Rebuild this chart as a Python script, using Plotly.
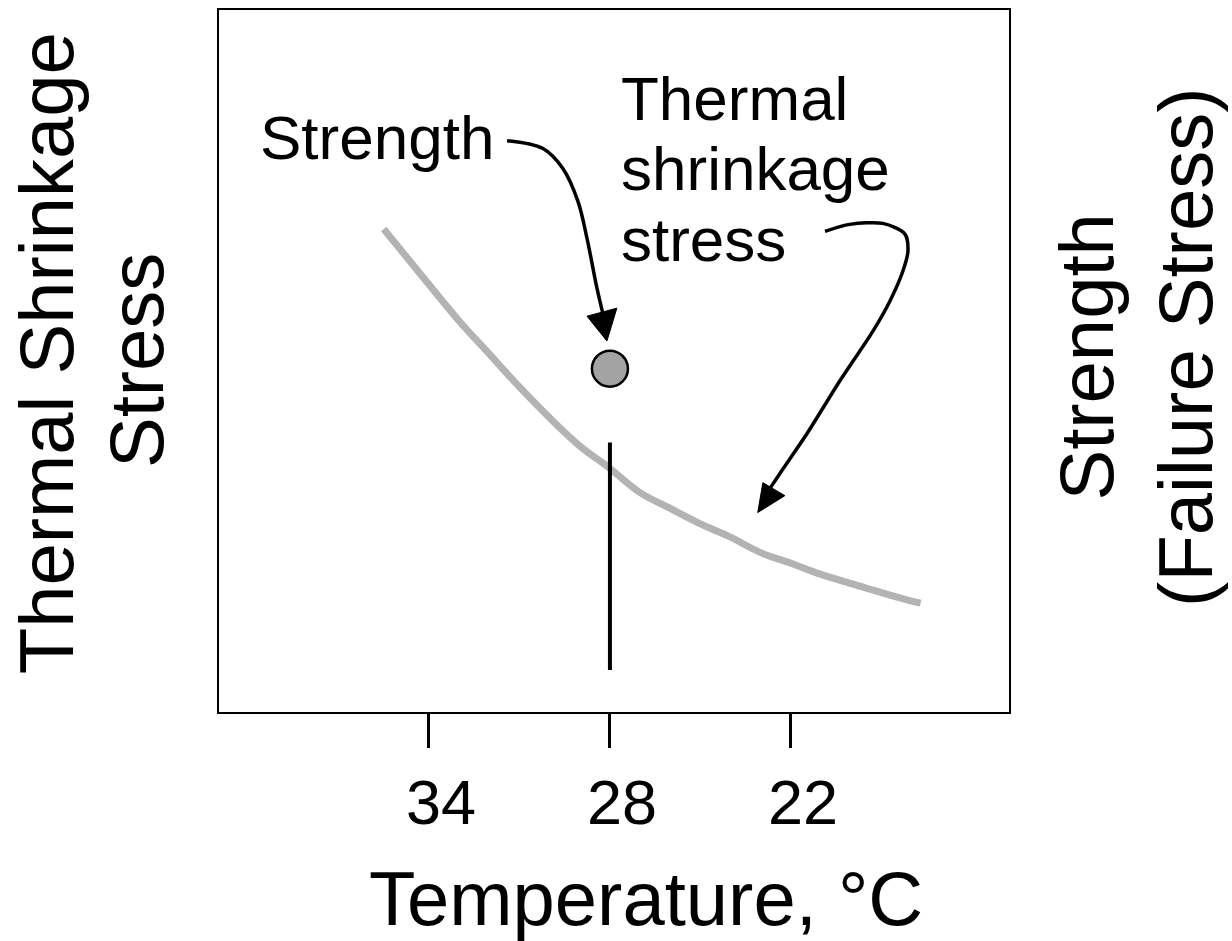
import plotly.graph_objects as go

# ---------------- data ----------------
temperature_c = [35.5, 34, 33, 32, 31, 30, 29, 28, 27, 26, 25, 24, 23, 22, 21, 20, 19, 18, 17.7]
shrinkage_stress = [68.8, 60.9, 55.7, 51.0, 46.3, 41.9, 37.9, 34.7, 31.25, 29.0, 26.8, 24.9,
                    22.7, 21.2, 19.6, 18.3, 17.0, 15.8, 15.5]

strength_temp = [28]
strength_value = [48.9]

cutoff_temp = [28, 28]
cutoff_stress = [38.4, 6.0]

tick_values = [34, 28, 22]
tick_labels = ["34", "28", "22"]

# annotation arrows (data coordinates)
strength_arrow_t = [31.41, 30.22, 29.56, 29.06, 28.76, 28.43, 28.23]
strength_arrow_s = [81.39, 80.26, 77.41, 72.73, 67.47, 60.37, 56.68]
strength_head_t = [28.76, 27.77, 28.10]
strength_head_s = [56.39, 57.53, 52.84]

thermal_arrow_t = [20.87, 20.05, 18.95, 18.22, 18.12, 18.29, 18.72, 19.28, 20.38, 21.47, 22.37, 22.70]
thermal_arrow_s = [68.47, 69.46, 69.60, 68.08, 65.63, 62.78, 58.52, 54.26, 47.16, 39.63, 33.95, 31.82]
thermal_head_t = [22.93, 22.20, 23.10]
thermal_head_s = [32.67, 30.82, 28.41]

FONT = "Liberation Sans, Arial, sans-serif"

fig = go.Figure()

fig.add_trace(go.Scatter(
    x=temperature_c, y=shrinkage_stress, mode="lines",
    line=dict(color="#b3b3b3", width=7, shape="spline", smoothing=1.0),
    hoverinfo="skip", showlegend=False))

fig.add_trace(go.Scatter(
    x=cutoff_temp, y=cutoff_stress, mode="lines",
    line=dict(color="black", width=4),
    hoverinfo="skip", showlegend=False))

fig.add_trace(go.Scatter(
    x=strength_temp, y=strength_value, mode="markers",
    marker=dict(size=36, color="#a3a3a3", line=dict(color="black", width=2.5)),
    hoverinfo="skip", showlegend=False))

# arrow shafts
for tx, sy, sm in [(strength_arrow_t, strength_arrow_s, 1.0), (thermal_arrow_t, thermal_arrow_s, 0.8)]:
    fig.add_trace(go.Scatter(
        x=tx, y=sy, mode="lines",
        line=dict(color="black", width=3.5, shape="spline", smoothing=sm),
        hoverinfo="skip", showlegend=False))

# arrow heads
for ht, hs in [(strength_head_t, strength_head_s), (thermal_head_t, thermal_head_s)]:
    path = "M {},{} L {},{} L {},{} Z".format(ht[0], hs[0], ht[1], hs[1], ht[2], hs[2])
    fig.add_shape(type="path", path=path, xref="x", yref="y",
                  fillcolor="black", line=dict(color="black", width=1))

# in-plot labels
fig.add_annotation(x=39.67, y=81.89, xref="x", yref="y", text="Strength",
                   showarrow=False, xanchor="left", yanchor="middle",
                   font=dict(family=FONT, size=62, color="black"))
for txt, yv in [("Thermal", 87.43), ("shrinkage", 77.49), ("stress", 67.26)]:
    fig.add_annotation(x=27.70, y=yv, xref="x", yref="y", text=txt,
                       showarrow=False, xanchor="left", yanchor="middle",
                       font=dict(family=FONT, size=62, color="black"))

# axis titles
titles = [
    ("Thermal Shrinkage", -0.219, 0.511, -90),
    ("Stress", -0.105, 0.500, -90),
    ("Strength", 1.0975, 0.505, -90),
    ("(Failure Stress)", 1.224, 0.520, -90),
    ("Temperature, \u00b0C", 0.5405, -0.2656, 0),
]
for txt, xp, yp, ang in titles:
    fig.add_annotation(x=xp, y=yp, xref="paper", yref="paper", text=txt,
                       showarrow=False, xanchor="center", yanchor="middle",
                       textangle=ang,
                       font=dict(family=FONT, size=76, color="black"))

fig.update_layout(
    width=1232, height=941,
    margin=dict(l=219, r=223, t=8, b=229),
    paper_bgcolor="white", plot_bgcolor="white",
    showlegend=False,
    font=dict(family=FONT, color="black"),
    xaxis=dict(
        range=[40.96, 14.77], tickvals=tick_values, ticktext=tick_labels,
        ticks="outside", ticklen=34, tickwidth=3, tickcolor="black",
        showline=True, linecolor="black", linewidth=2, mirror=True,
        showgrid=False, zeroline=False,
        tickfont=dict(family=FONT, size=63, color="black"),
        ticklabelstandoff=0, ticklabelshift=-12,
    ),
    yaxis=dict(
        range=[0, 100], showticklabels=False, ticks="",
        showline=True, linecolor="black", linewidth=2, mirror=True,
        showgrid=False, zeroline=False,
    ),
)

fig.write_html("out.html", config={"displayModeBar": False},
               post_script="document.body.style.margin='0px';")
